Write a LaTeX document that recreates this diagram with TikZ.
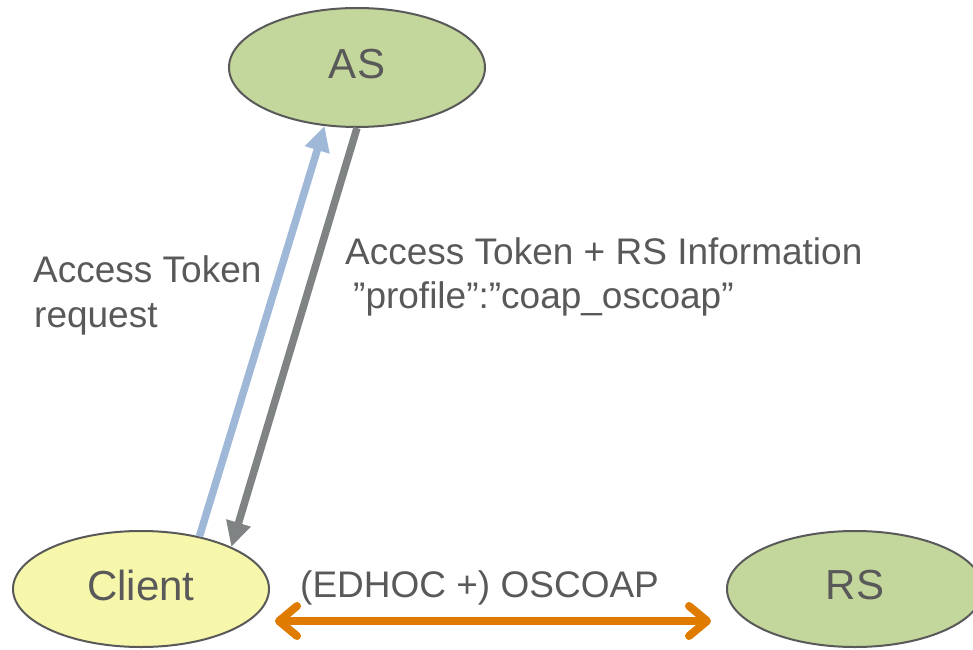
\documentclass[tikz,border=0pt]{standalone}
\usepackage{fontspec}
\setmainfont{Liberation Sans}
\usetikzlibrary{arrows.meta,shapes.geometric}
\definecolor{txt}{HTML}{595959}
\definecolor{asgreen}{HTML}{C3D69B}
\definecolor{cliyellow}{HTML}{F7F7AB}
\definecolor{reqblue}{HTML}{A0B8D8}
\definecolor{respgray}{HTML}{808383}
\definecolor{orng}{HTML}{DF7C00}
\begin{document}
\begin{tikzpicture}[x=1bp,y=-1bp,
  party/.style={ellipse, draw=txt, line width=2bp, minimum width=256bp,
    minimum height=116bp, inner sep=0pt, text=txt,
    font=\fontsize{42bp}{50bp}\selectfont, text depth=8bp},
  lbl/.style={anchor=base west, inner sep=0pt, text=txt,
    font=\fontsize{37bp}{44bp}\selectfont},
  flow/.style={line width=7.5bp, -{Triangle[length=25bp,width=24bp]}},
  both/.style={line width=8bp, draw=orng,
    {Straight Barb[length=18bp,width=30bp,round]}-{Straight Barb[length=18bp,width=30bp,round]}}
]
\useasboundingbox (0,0) rectangle (973,650);
\node[party, fill=asgreen, minimum height=119bp] (as) at (357,67.5) {AS};
\node[party, fill=cliyellow] (client) at (141,589) {Client};
\node[party, fill=asgreen] (rs) at (855,589) {RS};
\draw[flow, draw=reqblue, fill=reqblue] (client.42) -- (as.241);
\draw[flow, draw=respgray, fill=respgray] (as.south) -- (client.25);
\coordinate (oleft) at (275,621);
\coordinate (oright) at (711,621);
\draw[both] (oleft) -- (oright);
\node[lbl] (req1) at (33,282) {Access Token};
\node[lbl] (req2) at (34,327) {request};
\node[lbl] (resp1) at (345,264) {Access Token + RS Information};
\node[lbl] (resp2) at (353,308) {”profile”:”coap\_oscoap”};
\node[lbl] (prot) at (300,597) {(EDHOC +) OSCOAP};
\end{tikzpicture}
\end{document}
